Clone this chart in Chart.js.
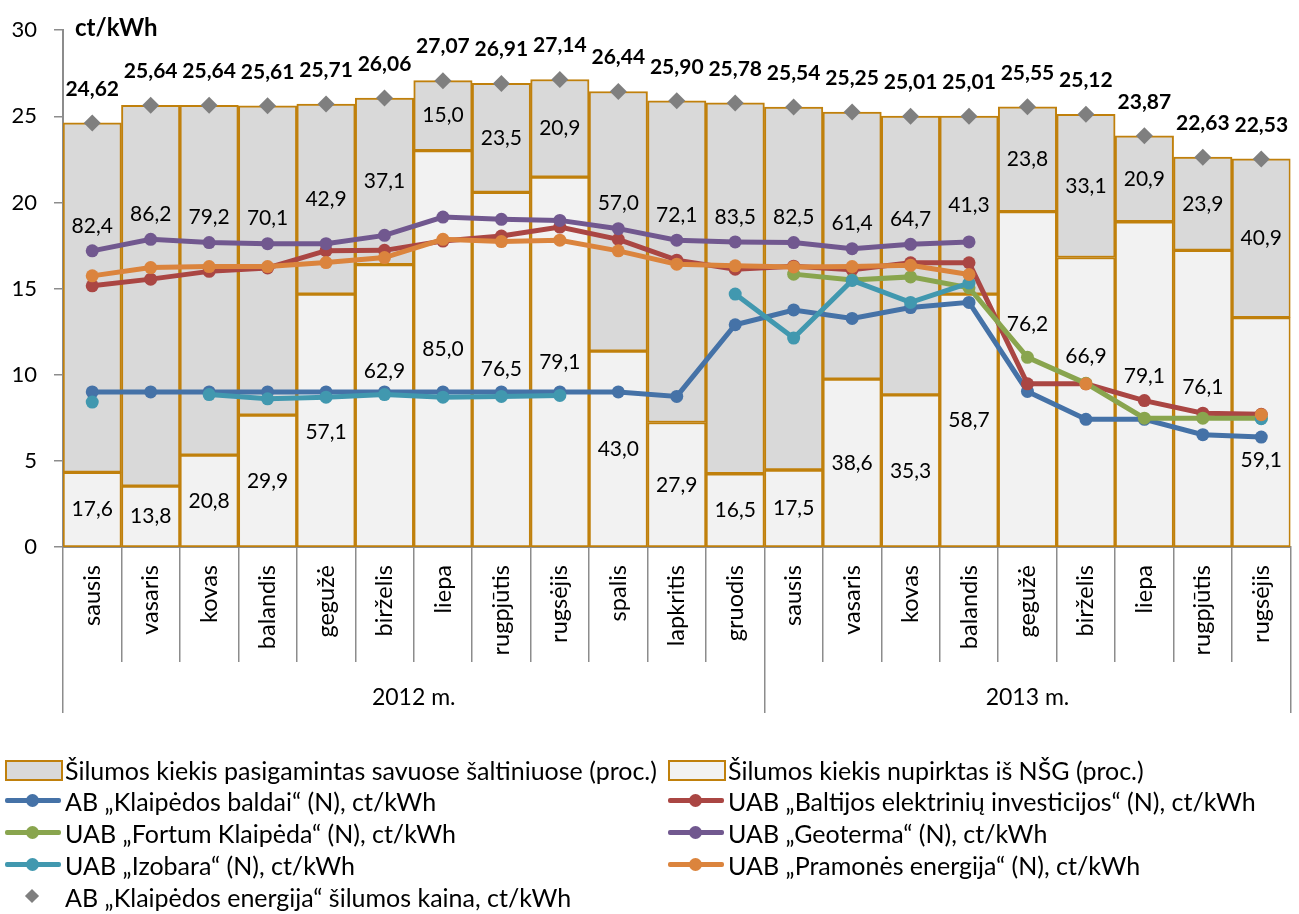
<!DOCTYPE html>
<html>
<head>
<meta charset="utf-8">
<script src="https://cdn.jsdelivr.net/npm/chart.js@4.4.0/dist/chart.umd.min.js"></script>
<style>
html,body{margin:0;padding:0;background:#fff;}
#wrap{position:relative;width:1299px;height:914px;overflow:hidden;}
#c{position:absolute;left:0;top:0;}
#legend{position:absolute;left:0;top:0;width:1299px;height:914px;font-family:Lato,"Open Sans",sans-serif;font-size:25px;color:#000;pointer-events:none;}
.item{position:absolute;height:32px;display:flex;align-items:center;white-space:nowrap;}
.sym{position:relative;width:62px;height:32px;flex:none;}
.txt{line-height:32px;}
</style>
</head>
<body>
<div id="wrap"><canvas id="c" width="1299" height="914"></canvas><div id="legend"></div></div>
<script>
// ---------- data ----------
const months = ['sausis','vasaris','kovas','balandis','gegužė','birželis','liepa','rugpjūtis','rugsėjis','spalis','lapkritis','gruodis',
                'sausis','vasaris','kovas','balandis','gegužė','birželis','liepa','rugpjūtis','rugsėjis'];
const years = ['2012 m.','2013 m.'];
const monthsPerYear = [12, 9];
const price = [24.62,25.64,25.64,25.61,25.71,26.06,27.07,26.91,27.14,26.44,25.90,25.78,25.54,25.25,25.01,25.01,25.55,25.12,23.87,22.63,22.53];
const ownPct = [82.4,86.2,79.2,70.1,42.9,37.1,15.0,23.5,20.9,57.0,72.1,83.5,82.5,61.4,64.7,41.3,23.8,33.1,20.9,23.9,40.9];
const nsgPct = [17.6,13.8,20.8,29.9,57.1,62.9,85.0,76.5,79.1,43.0,27.9,16.5,17.5,38.6,35.3,58.7,76.2,66.9,79.1,76.1,59.1];
const baldai   = [9.0,9.0,9.0,9.0,9.0,9.0,9.0,9.0,9.0,9.0,8.74,12.9,13.76,13.27,13.9,14.2,9.03,7.41,7.41,6.52,6.38];
const baltijos = [15.16,15.55,16.0,16.2,17.2,17.22,17.76,18.05,18.57,17.86,16.65,16.13,16.3,16.1,16.5,16.5,9.47,9.47,8.5,7.77,7.7];
const fortum   = [null,null,null,null,null,null,null,null,null,null,null,null,15.84,15.5,15.68,15.05,11.01,9.5,7.48,7.48,7.48];
const geoterma = [17.19,17.86,17.67,17.61,17.61,18.09,19.15,19.02,18.96,18.48,17.81,17.71,17.67,17.32,17.57,17.71,null,null,null,null,null];
const izobara  = [8.41,null,8.85,8.6,8.7,8.85,8.7,8.74,8.8,null,null,14.68,12.13,15.47,14.2,15.32,null,null,null,null,7.45];
const pramones = [15.74,16.22,16.28,16.28,16.51,16.8,17.86,17.73,17.81,17.19,16.42,16.32,16.26,16.28,16.35,15.82,null,9.47,null,null,7.68];
const yTicks = [0,5,10,15,20,25,30];

// ---------- label placement (layout: ct/kWh shift of the NŠG labels from their segment centre) ----------
const nsgLabelNudge = [0,0,0,0,-0.7,2.0,0,0,0,0,0,0,0,0,0,0,3.17,2.66,0.5,0.66,-1.63];

// ---------- styles ----------
const FONT = 'Lato';
const GRAY = '#8c8c8c';
const BAR_BORDER = '#C0800C';
const C = {baldai:'#4572A7', baltijos:'#AA4643', fortum:'#89A54E', geoterma:'#71588F', izobara:'#4198AF', pramones:'#DB843D', price:'#7F7F7F'};

const nsgPart = price.map((p,i) => +(p*nsgPct[i]/100).toFixed(4));
const ownPart = price.map((p,i) => +(p*ownPct[i]/100).toFixed(4));
const lineSeries = [baldai,baltijos,fortum,geoterma,izobara,pramones];
const fmt = (v,d) => v.toFixed(d).replace('.', ',');

Chart.defaults.font.family = FONT;
Chart.defaults.color = '#000';

function lineDs(label, data, color, order){
  return {type:'line', label, data, yAxisID:'y', borderColor:color, backgroundColor:color, pointBackgroundColor:color,
          pointBorderColor:color, borderWidth:5, pointRadius:6.5, pointBorderWidth:0, pointHoverRadius:6.5,
          spanGaps:false, tension:0, order};
}

const datasets = [
  {type:'bar', label:'Šilumos kiekis nupirktas iš NŠG (proc.)', data:nsgPart, yAxisID:'yb', backgroundColor:'#F2F2F2',
   borderColor:BAR_BORDER, borderWidth:2, borderSkipped:false, stack:'s', order:10},
  {type:'bar', label:'Šilumos kiekis pasigamintas savuose šaltiniuose (proc.)', data:ownPart, yAxisID:'yb', backgroundColor:'#D9D9D9',
   borderColor:BAR_BORDER, borderWidth:2, borderSkipped:false, stack:'s', order:10},
  lineDs('AB „Klaipėdos baldai“ (N), ct/kWh', baldai, C.baldai, 6),
  lineDs('UAB „Baltijos elektrinių investicijos“ (N), ct/kWh', baltijos, C.baltijos, 5),
  lineDs('UAB „Fortum Klaipėda“ (N), ct/kWh', fortum, C.fortum, 4),
  lineDs('UAB „Geoterma“ (N), ct/kWh', geoterma, C.geoterma, 3),
  lineDs('UAB „Izobara“ (N), ct/kWh', izobara, C.izobara, 2),
  lineDs('UAB „Pramonės energija“ (N), ct/kWh', pramones, C.pramones, 1),
  {type:'line', label:'AB „Klaipėdos energija“ šilumos kaina, ct/kWh', data:price, yAxisID:'y', showLine:false,
   pointStyle:'rectRot', pointRadius:8.5, pointHoverRadius:8.5, pointBackgroundColor:C.price, pointBorderColor:C.price,
   pointBorderWidth:0, borderColor:C.price, backgroundColor:C.price, order:0}
];

// year grouping ticks
const yearBounds = [-0.5];
const yearCenters = [];
monthsPerYear.reduce((start,n) => { yearCenters.push(start + (n-1)/2); yearBounds.push(start + n - 0.5); return start+n; }, 0);
const yearTickVals = [...yearBounds, ...yearCenters].sort((a,b)=>a-b);

const labelPlugin = {
  id:'valueLabels',
  afterDatasetsDraw(chart){
    const {ctx} = chart; const x = chart.scales.x, y = chart.scales.y;
    ctx.save();
    ctx.fillStyle = '#000'; ctx.textAlign = 'center'; ctx.textBaseline = 'middle';
    months.forEach((m,i) => {
      const cx = x.getPixelForValue(i);
      const vals = lineSeries.map(s=>s[i]).filter(v=>v!=null);
      const lineMax = vals.length ? Math.max(...vals) : 0;
      const ownCenter = nsgPart[i] + ownPart[i]/2;
      const ownAt = Math.max(ownCenter, lineMax + 1.45);
      ctx.font = '21px ' + FONT;
      ctx.fillText(fmt(ownPct[i],1), cx, y.getPixelForValue(ownAt));
      ctx.fillText(fmt(nsgPct[i],1), cx, y.getPixelForValue(nsgPart[i]/2 + nsgLabelNudge[i]));
      ctx.font = 'bold 21px ' + FONT;
      ctx.fillText(fmt(price[i],2), cx, y.getPixelForValue(price[i]) - 34);
    });
    ctx.font = 'bold 24px ' + FONT; ctx.textAlign = 'left';
    ctx.fillText('ct/kWh', chart.chartArea.left + 12, y.getPixelForValue(30) - 2);
    ctx.restore();
  }
};

const chart = new Chart(document.getElementById('c'), {
  data:{labels:months, datasets},
  options:{
    responsive:false, animation:false, devicePixelRatio:1,
    layout:{padding:{top:28,right:1,left:0,bottom:201}},
    datasets:{bar:{barPercentage:1, categoryPercentage:1}},
    plugins:{legend:{display:false}, tooltip:{enabled:false}},
    scales:{
      x:{type:'category', weight:0, offset:true, stacked:true,
         ticks:{minRotation:90, maxRotation:90, autoSkip:false, padding:-97, font:{size:23.5}, color:'#000'},
         grid:{offset:true, drawOnChartArea:false, drawTicks:true, tickLength:115, color:GRAY, lineWidth:1.5},
         border:{display:true, color:GRAY, width:2},
         afterFit:s=>{s.height=115;}},
      x2:{type:'linear', position:'bottom', weight:1, min:-0.5, max:20.5,
         afterBuildTicks:a=>{a.ticks = yearTickVals.map(v=>({value:v}));},
         ticks:{autoSkip:false, maxRotation:0, padding:-29, font:{size:23}, color:'#000',
                callback:(v)=>{const k = yearCenters.indexOf(v); return k>=0 ? years[k] : '';}},
         grid:{drawOnChartArea:false, drawTicks:true, tickLength:51, lineWidth:1.5,
               color:c=> (c.tick && yearBounds.includes(c.tick.value)) ? GRAY : 'rgba(0,0,0,0)'},
         border:{display:false},
         afterFit:s=>{s.height=51;}},
      y:{type:'linear', stacked:false, min:0, max:30, position:'left',
         afterBuildTicks:a=>{a.ticks = yTicks.map(v=>({value:v}));},
         ticks:{padding:17, font:{size:22}, color:'#000'},
         grid:{drawOnChartArea:false, drawTicks:true, tickLength:9, color:GRAY, lineWidth:1.5},
         border:{display:true, color:GRAY, width:2},
         afterFit:s=>{s.width=63;}},
      yb:{type:'linear', stacked:true, min:0, max:30, position:'left', display:false}
    }
  },
  plugins:[labelPlugin]
});

// ---------- HTML legend built from the chart's datasets ----------
const legendSlots = [
  {ds:1, col:0, row:0}, {ds:0, col:1, row:0},
  {ds:2, col:0, row:1}, {ds:3, col:1, row:1},
  {ds:4, col:0, row:2}, {ds:5, col:1, row:2},
  {ds:6, col:0, row:3}, {ds:7, col:1, row:3},
  {ds:8, col:0, row:4}
];
const colX = [3, 666], rowY = [754, 785, 817, 849, 881];
const legend = document.getElementById('legend');
legendSlots.forEach(s => {
  const d = chart.data.datasets[s.ds];
  const it = document.createElement('div'); it.className = 'item';
  it.style.left = colX[s.col] + 'px'; it.style.top = rowY[s.row] + 'px';
  const sym = document.createElement('div'); sym.className = 'sym';
  if (d.type === 'bar') {
    sym.innerHTML = `<div style="position:absolute;left:2px;top:6px;width:54px;height:17px;background:${d.backgroundColor};border:2px solid ${d.borderColor};"></div>`;
  } else if (d.showLine === false) {
    sym.innerHTML = `<div style="position:absolute;left:24px;top:10px;width:10px;height:10px;background:${d.pointBackgroundColor};transform:rotate(45deg);"></div>`;
  } else {
    sym.innerHTML = `<div style="position:absolute;left:2px;top:13px;width:56px;height:5px;border-radius:2px;background:${d.borderColor};"></div>`+
                    `<div style="position:absolute;left:23px;top:9px;width:13px;height:13px;border-radius:50%;background:${d.borderColor};"></div>`;
  }
  const t = document.createElement('div'); t.className = 'txt'; t.textContent = d.label;
  it.appendChild(sym); it.appendChild(t); legend.appendChild(it);
});
</script>
</body>
</html>
